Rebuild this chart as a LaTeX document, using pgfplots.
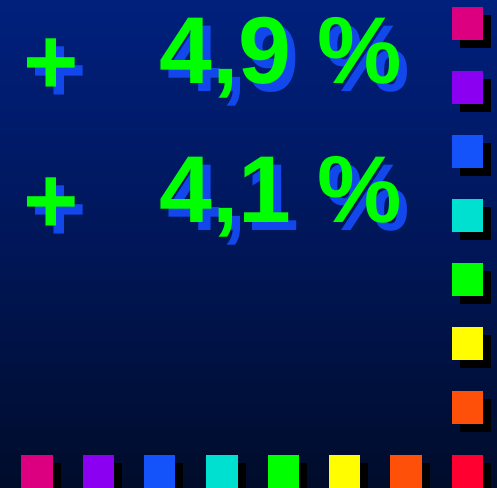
\documentclass[border=0pt]{standalone}
\usepackage{fontspec}
\setmainfont{Liberation Sans}
\usepackage{pgfplots}
\pgfplotsset{compat=1.18}
\definecolor{bgTop}{RGB}{0,32,125}
\definecolor{bgMid}{RGB}{0,22,88}
\definecolor{bgBot}{RGB}{0,12,42}
\definecolor{txtGreen}{RGB}{0,255,0}
\definecolor{txtShadow}{RGB}{18,72,235}
\definecolor{cMag}{RGB}{220,0,128}
\definecolor{cPur}{RGB}{140,0,242}
\definecolor{cBlu}{RGB}{20,82,250}
\definecolor{cCya}{RGB}{0,224,208}
\definecolor{cGrn}{RGB}{0,255,0}
\definecolor{cYel}{RGB}{255,253,0}
\definecolor{cOra}{RGB}{255,80,10}
\definecolor{cRed}{RGB}{255,0,48}
\pgfdeclareplotmark{box}{%
  \pgfpathrectangle{\pgfpoint{-15.75pt}{-16.5pt}}{\pgfpoint{31.5pt}{33pt}}%
  \pgfusepathqfill}
\newcommand\bigtxt{\fontsize{95}{95}\selectfont\bfseries}

\begin{document}
\begin{tikzpicture}
\begin{axis}[
  width=497pt, height=487pt, scale only axis,
  xmin=0, xmax=497, ymin=0, ymax=487,
  y dir=reverse,
  hide axis,
  clip=true, clip mode=individual,
]
% background
\fill[top color=bgTop, bottom color=bgBot, middle color=bgMid]
  (axis cs:0,0) rectangle (axis cs:497,487);

% shadows of the squares
\addplot[only marks, mark=box, color=black] coordinates {
  (475.5,31.5) (475.5,95.5) (475.5,159.5) (475.5,223.5)
  (475.5,287.5) (475.5,351.5) (475.5,415.5) (475.5,479.5)
  (45,479.5) (106.5,479.5) (167.5,479.5) (230,479.5)
  (291.5,479.5) (352.5,479.5) (414,479.5)
};
% squares: right column and bottom row
\addplot[only marks, mark=box, color=cMag] coordinates {(467.5,23.5) (37,471.5)};
\addplot[only marks, mark=box, color=cPur] coordinates {(467.5,87.5) (98.5,471.5)};
\addplot[only marks, mark=box, color=cBlu] coordinates {(467.5,151.5) (159.5,471.5)};
\addplot[only marks, mark=box, color=cCya] coordinates {(467.5,215.5) (222,471.5)};
\addplot[only marks, mark=box, color=cGrn] coordinates {(467.5,279.5) (283.5,471.5)};
\addplot[only marks, mark=box, color=cYel] coordinates {(467.5,343.5) (344.5,471.5)};
\addplot[only marks, mark=box, color=cOra] coordinates {(467.5,407.5) (406,471.5)};
\addplot[only marks, mark=box, color=cRed] coordinates {(467.5,471.5)};

% figures
\node[anchor=base west, inner sep=0, text=txtShadow, font=\bigtxt] at (axis cs:31,102) {+};
\node[anchor=base west, inner sep=0, text=txtGreen, font=\bigtxt] at (axis cs:23,94) {+};
\node[anchor=base west, inner sep=0, text=txtShadow, font=\bigtxt] at (axis cs:167,91) {4,9 \%};
\node[anchor=base west, inner sep=0, text=txtGreen, font=\bigtxt] at (axis cs:159,83) {4,9 \%};

\node[anchor=base west, inner sep=0, text=txtShadow, font=\bigtxt] at (axis cs:31,241) {+};
\node[anchor=base west, inner sep=0, text=txtGreen, font=\bigtxt] at (axis cs:23,233) {+};
\node[anchor=base west, inner sep=0, text=txtShadow, font=\bigtxt] at (axis cs:167,230) {4,1 \%};
\node[anchor=base west, inner sep=0, text=txtGreen, font=\bigtxt] at (axis cs:159,222) {4,1 \%};
\end{axis}
\pgfresetboundingbox
\path (current axis.south west) rectangle (current axis.north east);
\end{tikzpicture}
\end{document}
